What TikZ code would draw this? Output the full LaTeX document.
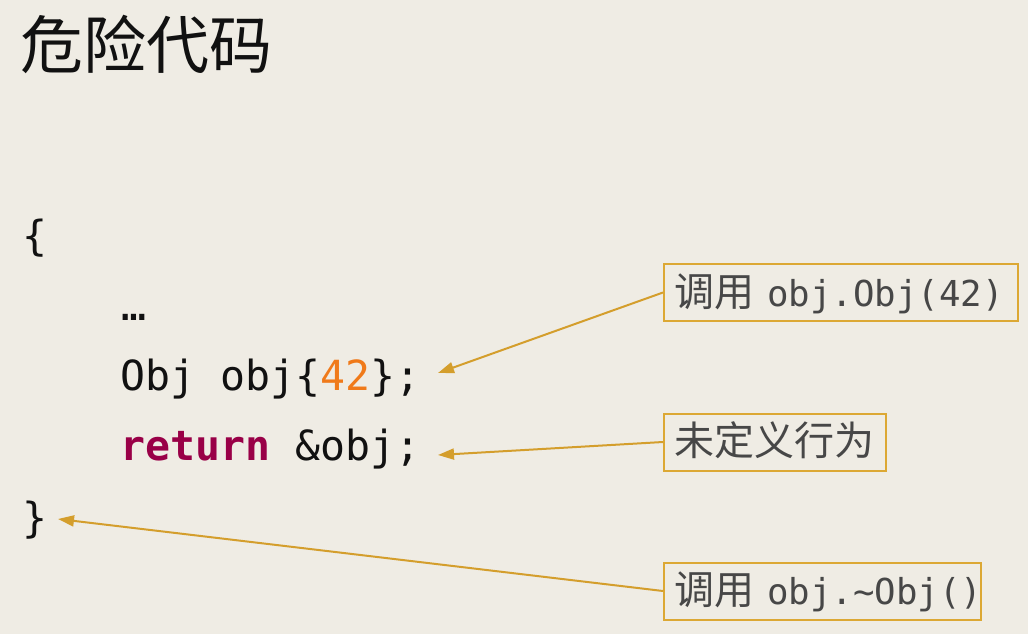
\documentclass[tikz,border=0pt]{standalone}
\usepackage{fontspec}
\usetikzlibrary{arrows.meta}
\newfontfamily\cjk{Noto Sans CJK SC}
\newfontfamily\codefont{DejaVu Sans Mono}
\definecolor{bgc}{HTML}{EFECE4}
\definecolor{goldc}{HTML}{DCA834}
\definecolor{arrc}{HTML}{D49E2C}
\definecolor{kwc}{HTML}{990047}
\definecolor{numc}{HTML}{F07A1A}
\definecolor{labc}{HTML}{474747}
\definecolor{codec}{HTML}{111111}
\tikzset{
  code/.style={anchor=base west, inner sep=0pt, text=codec, font=\codefont\fontsize{41.5}{48}\selectfont},
  lab/.style={anchor=west, draw=goldc, line width=2pt, inner xsep=10pt, inner ysep=0pt,
    minimum height=57pt, text height=32pt, text depth=5pt, align=left, text=labc,
    font=\cjk\fontsize{40}{46}\selectfont},
  conn/.style={draw=arrc, line width=2pt, -{Triangle[length=16pt,width=11pt]}}
}
\newcommand{\lm}[1]{{\codefont\fontsize{35.7}{40}\selectfont #1}}
\begin{document}
\begin{tikzpicture}[x=1pt,y=-1pt]
\useasboundingbox[fill=bgc] (0,0) rectangle (1028,634);
\node[anchor=base west, inner sep=0pt, font=\cjk\fontsize{63}{70}\selectfont, text=codec] (title) at (20,69) {危险代码};
\node[code] (open) at (22,250) {\{};
\node[code] (dots) at (121,320) {…};
\node[code] (decl) at (120,390) {Obj obj\{\textcolor{numc}{42}\};};
\node[code] (ret) at (120,460) {\textcolor{kwc}{\bfseries return} \&obj;};
\node[code] (close) at (22,532) {\}};
\node[lab, text width=334pt] (l1) at (663,292.5) {\mbox{调用 \lm{obj.Obj(42)}}};
\node[lab, text width=202pt] (l2) at (663,442) {\mbox{未定义行为}};
\node[lab, text width=297pt] (l3) at (663,591) {\mbox{调用 \lm{obj.\textasciitilde Obj()}}};
\coordinate (t1) at (438,373);
\coordinate (t2) at (438,455);
\coordinate (t3) at (58,519);
\draw[conn] (l1.west) -- (t1);
\draw[conn] (l2.west) -- (t2);
\draw[conn] (l3.west) -- (t3);
\end{tikzpicture}
\end{document}
